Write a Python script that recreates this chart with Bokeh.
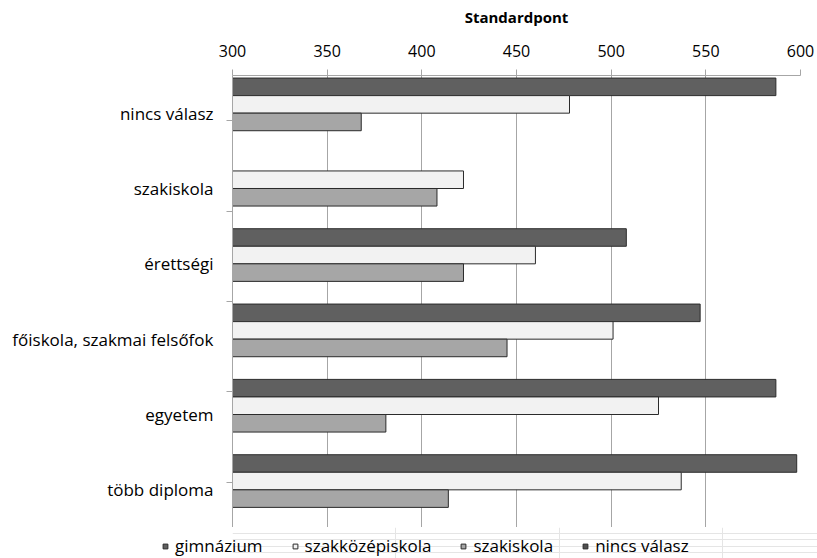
from bokeh.plotting import figure
from bokeh.layouts import column
from bokeh.models import (FactorRange, Range1d, CategoricalAxis, FixedTicker,
                          ColumnDataSource, Legend, LegendItem)
from bokeh.transform import dodge
from bokeh.embed import file_html
from bokeh.resources import INLINE

NaN = float("nan")

categories = ["nincs válasz", "szakiskola", "érettségi",
              "főiskola, szakmai felsőfok", "egyetem", "több diploma"]
series_names = ["gimnázium", "szakközépiskola", "szakiskola", "nincs válasz"]
gimnazium = [587, NaN, 508, 547, 587, 598]
szakkozepiskola = [478, 422, 460, 501, 525, 537]
szakiskola = [368, 408, 422, 445, 381, 414]
nincs_valasz = [NaN, NaN, NaN, NaN, NaN, NaN]
x_ticks = [300, 350, 400, 450, 500, 550, 600]

colors = ["#606060", "#f2f2f2", "#a6a6a6", "#505050"]
FONT = "Open Sans"
GRAY = "#a6a6a6"
OUTLINE = "#2b2b2b"

source = ColumnDataSource(dict(cat=categories, s0=gimnazium, s1=szakkozepiskola,
                               s2=szakiskola, s3=nincs_valasz))

p = figure(output_backend="svg", toolbar_location=None,
           y_range=FactorRange(factors=list(reversed(categories)), range_padding=0),
           x_range=Range1d(300, 600),
           x_axis_location="above", y_axis_location=None,
           min_border_left=232, min_border_right=17, min_border_top=75, min_border_bottom=0,
           frame_width=568, frame_height=452)
p.outline_line_color = None
p.background_fill_color = "white"

bar_h = 0.233
gap = (1 - 4 * bar_h) / 2
offsets = [0.5 - gap - bar_h / 2 - i * bar_h for i in range(4)]

for i, col in enumerate(["s0", "s1", "s2", "s3"]):
    p.hbar(y=dodge("cat", offsets[i], range=p.y_range), left=300, right=col,
           height=bar_h, source=source, fill_color=colors[i],
           line_color=OUTLINE, line_width=1)

# top x axis
xa = p.xaxis[0]
xa.ticker = FixedTicker(ticks=x_ticks)
xa.axis_label = "Standardpont"
xa.axis_label_text_font = FONT
xa.axis_label_text_font_style = "bold"
xa.axis_label_text_font_size = "15px"
xa.axis_label_text_color = "black"
xa.axis_label_standoff = 15
xa.major_label_text_font = FONT
xa.major_label_text_font_size = "16px"
xa.major_label_text_color = "black"
xa.major_label_standoff = 13
xa.axis_line_color = GRAY
xa.major_tick_line_color = GRAY
xa.major_tick_out = 6
xa.major_tick_in = 0
xa.minor_tick_line_color = None

p.xgrid.ticker = FixedTicker(ticks=x_ticks)
p.xgrid.grid_line_color = GRAY
p.ygrid.grid_line_color = None

# left axes: boundary ticks (factor range shifted by half a band) + category labels
bounds = ["b%d" % k for k in range(len(categories) + 1)]
p.extra_y_ranges = {"band": FactorRange(factors=bounds, range_padding=-1,
                                        range_padding_units="absolute")}
tick_axis = CategoricalAxis(y_range_name="band",
                            major_label_text_font_size="0px", major_label_standoff=0,
                            major_label_text_alpha=0,
                            axis_line_color=GRAY, major_tick_line_color=GRAY,
                            major_tick_out=6, major_tick_in=0)
cat_axis = CategoricalAxis(axis_line_color=None, major_tick_line_color=None,
                           major_label_text_font=FONT, major_label_text_font_size="17px",
                           major_label_text_color="black", major_label_standoff=7)
p.add_layout(tick_axis, "left")
p.add_layout(cat_axis, "left")

# legend strip below the chart (swatch renderers sit outside the strip's visible range)
lg = figure(output_backend="svg", toolbar_location=None,
            x_range=Range1d(0, 1), y_range=Range1d(0, 1),
            x_axis_location=None, y_axis_location=None,
            min_border_left=0, min_border_right=0, min_border_top=0, min_border_bottom=0,
            frame_width=817, frame_height=31)
lg.outline_line_color = None
swatches = []
for i in range(4):
    swatches.append(lg.scatter(x=[-5], y=[-5], marker="square", size=12,
                               fill_color=colors[i], line_color=OUTLINE, line_width=1))
legend = Legend(items=[LegendItem(label=n, renderers=[r]) for n, r in zip(series_names, swatches)],
                orientation="horizontal", location=(159, 1),
                glyph_width=12, glyph_height=12, label_standoff=4, spacing=26,
                padding=0, margin=0, border_line_color=None, background_fill_alpha=0,
                label_text_font=FONT, label_text_font_size="17px", label_height=16,
                label_text_color="black")
lg.add_layout(legend, "center")

layout = column(p, lg, spacing=0)
open("out.html", "w").write(file_html(layout, INLINE))
